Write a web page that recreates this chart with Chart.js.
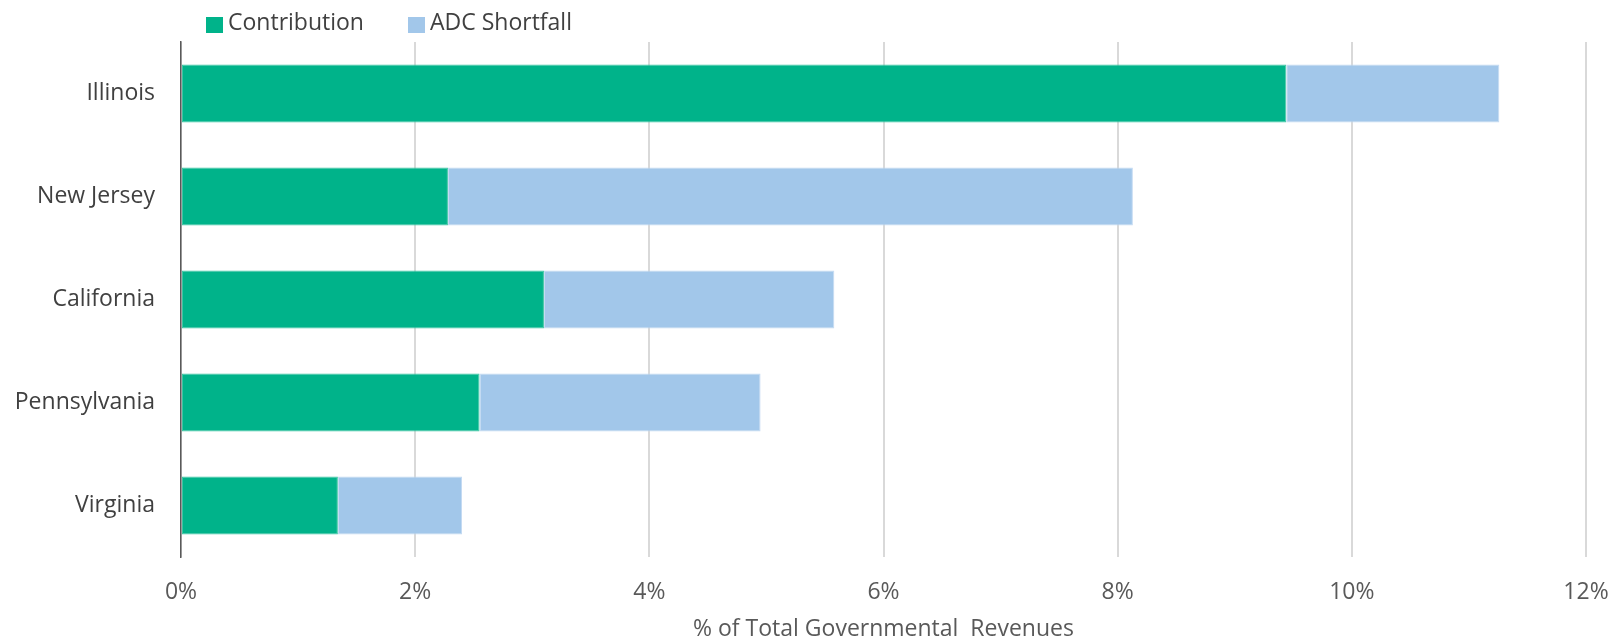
<!DOCTYPE html>
<html>
<head>
<meta charset="utf-8">
<script src="https://cdn.jsdelivr.net/npm/chart.js@4"></script>
<style>
    body { margin: 0; background: #fff; font-family: 'Open Sans', sans-serif; }
    #wrap { position: relative; width: 1619px; height: 639px; }
    .legend-item { position: absolute; top: 4px; font-size: 23px; color: #404040; line-height: 34px; white-space: nowrap; }
    .legend-box { position: absolute; top: 17px; width: 17px; height: 16px; }
</style>
</head>
<body>
<div id="wrap">
    <canvas id="chart"></canvas>
    <span class="legend-box" style="left:206px;background:#00B38A"></span>
    <span class="legend-item" style="left:228px">Contribution</span>
    <span class="legend-box" style="left:408px;background:#A2C7EA"></span>
    <span class="legend-item" style="left:430px">ADC Shortfall</span>
</div>
<script>
    // ── Data (percent of total governmental revenues) ──
    const states = ['Illinois', 'New Jersey', 'California', 'Pennsylvania', 'Virginia'];
    const contribution = [9.44, 2.28, 3.10, 2.55, 1.34];
    const adcShortfall = [1.82, 5.85, 2.48, 2.40, 1.06];
    const xTicks = [0, 2, 4, 6, 8, 10, 12];

    const FONT = "'Open Sans', sans-serif";

    new Chart(document.getElementById('chart'), {
        type: 'bar',
        data: {
            labels: states,
            datasets: [
                { label: 'Contribution', data: contribution, backgroundColor: '#00B38A', borderColor: '#3EC6A3', borderWidth: 1, borderSkipped: false },
                { label: 'ADC Shortfall', data: adcShortfall, backgroundColor: '#A2C7EA', borderColor: '#C4DAF2', borderWidth: 1, borderSkipped: false }
            ]
        },
        options: {
            indexAxis: 'y',
            responsive: true, maintainAspectRatio: false,
            animation: false,
            layout: { padding: { top: 42, right: 33, left: 0, bottom: 0 } },
            datasets: { bar: { categoryPercentage: 1, barPercentage: 0.563 } },
            plugins: { legend: { display: false }, tooltip: { enabled: false } },
            scales: {
                x: {
                    stacked: true, min: 0, max: 12,
                    afterBuildTicks: s => { s.ticks = xTicks.map(v => ({ value: v })); },
                    // fixed axis band; side room comes from layout padding only
                    afterFit: s => { s.height = 82; s.paddingLeft = 0; s.paddingRight = 0; },
                    ticks: { padding: 22, color: '#595959', font: { family: FONT, size: 23 }, callback: v => v + '%' },
                    grid: { color: '#D9D9D9', lineWidth: 2, drawTicks: false },
                    border: { display: false },
                    title: { display: true, text: '% of Total Governmental  Revenues', color: '#595959', padding: 0, font: { family: FONT, size: 23, lineHeight: 0.8 } }
                },
                y: {
                    stacked: true,
                    afterFit: s => { s.width = 181; },
                    ticks: { padding: 26, color: '#404040', font: { family: FONT, size: 23 } },
                    grid: { display: false, drawTicks: false },
                    border: { display: true, color: '#595959', width: 1.5 }
                }
            }
        }
    });
</script>
</body>
</html>
